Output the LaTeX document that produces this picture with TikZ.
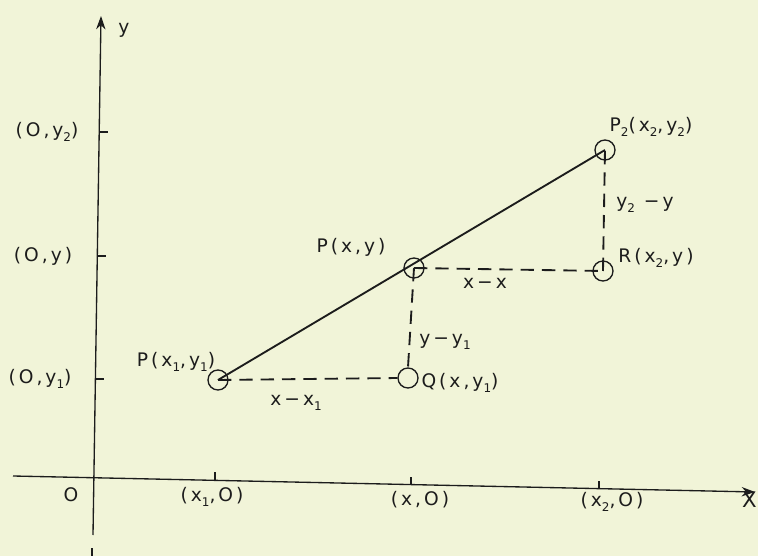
\documentclass[tikz,border=0pt]{standalone}
\usepackage{fontspec}
\setmainfont{DejaVu Sans}[LetterSpace=16]
\usetikzlibrary{arrows.meta}
\definecolor{paper}{RGB}{241,244,216}
\definecolor{ink}{RGB}{28,28,28}
\newcommand\lo[1]{\raisebox{-0.55ex}{\fontsize{9}{9}\selectfont #1}}
\begin{document}
\begin{tikzpicture}[x=0.75pt,y=-0.75pt,
  lbl/.style={font=\fontsize{14}{14}\selectfont, text=ink, inner sep=0pt},
  pt/.style={circle, draw=ink, line width=1pt, minimum size=15pt, inner sep=0pt},
  axis/.style={draw=ink, line width=1pt},
  seg/.style={draw=ink, line width=1.4pt},
  dsh/.style={draw=ink, line width=1.4pt, dash pattern=on 10pt off 6pt},
  tick/.style={draw=ink, line width=1pt},
  tip/.style={-{Stealth[length=10pt,width=7pt]}}]
\fill[paper] (0,0) rectangle (758,556);
\useasboundingbox (0,0) rectangle (758,556);

% axes
\coordinate (ybot) at (93,535);
\coordinate (ytop) at (101,16);
\coordinate (ystub1) at (92,548);
\coordinate (ystub2) at (92,556);
\coordinate (xl) at (13,476);
\coordinate (xr) at (755,492);
\draw[axis,tip] (ybot) -- (ytop);
\draw[axis] (ystub1) -- (ystub2);
\draw[axis,tip] (xl) -- (xr);

% ticks on y axis
\draw[tick] (99,132) -- (108,132);
\draw[tick] (97,256) -- (106,256);
\draw[tick] (95,379) -- (104,379);
% ticks on x axis
\draw[tick] (215,480) -- (215,472);
\draw[tick] (411,485) -- (411,477);
\draw[tick] (599,489) -- (599,481);

% points
\node[pt] (p1) at (218,380) {};
\node[pt] (p)  at (414,268) {};
\node[pt] (q)  at (408,378) {};
\node[pt] (r)  at (603,271) {};
\node[pt] (p2) at (605,150) {};

% connectors
\draw[seg] (p1.center) -- (p2.center);
\draw[dsh] (p1.center) -- (q.west);
\draw[dsh] (p.center) -- (q.north);
\draw[dsh] (p.center) -- (r.center);
\draw[dsh] (r.center) -- (p2.center);

% labels
\node[lbl] (ly)   at (124,30)  {y};
\node[lbl] (loy2) at (47,132)  {(O,y\lo{2})};
\node[lbl] (loy)  at (43,256)  {(O,y)};
\node[lbl] (loy1) at (40,379)  {(O,y\lo{1})};
\node[lbl] (lO)   at (71,495)  {O};
\node[lbl] (lx1o) at (212,497) {(x\lo{1},O)};
\node[lbl] (lxo)  at (420,500) {(x,O)};
\node[lbl] (lx2o) at (612,502) {(x\lo{2},O)};
\node[lbl,anchor=east] (lX) at (757,500) {\fontsize{16}{16}\selectfont X};
\node[lbl] (lp1)  at (176,362) {P(x\lo{1},y\lo{1})};
\node[lbl] (lp)   at (351,247) {P(x,y)};
\node[lbl] (lxx)  at (485,283) {x\,−x};
\node[lbl] (lyy1) at (445,342) {y−y\lo{1}};
\node[lbl] (lq)   at (460,383) {Q(x,y\lo{1})};
\node[lbl] (lxx1) at (296,403) {x\,−x\lo{1}};
\node[lbl] (lp2)  at (651,127) {P\lo{2}(x\lo{2},y\lo{2})};
\node[lbl] (ly2y) at (645,205) {y\lo{2} −y};
\node[lbl] (lr)   at (656,258) {R(x\lo{2},y)};
\end{tikzpicture}
\end{document}
